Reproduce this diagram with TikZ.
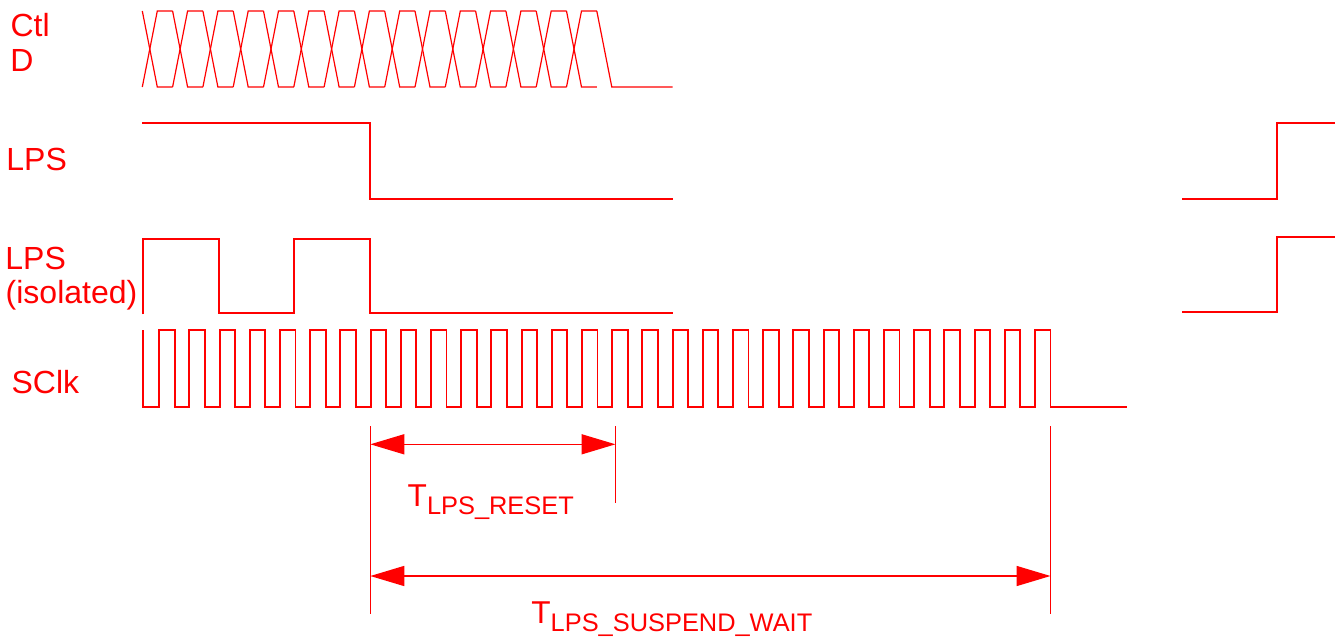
\documentclass[tikz,border=0pt]{standalone}
\usepackage{fontspec}
\setmainfont{Liberation Sans}
\usetikzlibrary{arrows.meta}
\definecolor{sigred}{RGB}{255,0,0}
\begin{document}
\begin{tikzpicture}[x=0.5pt,y=-0.5pt,
  wave/.style={draw=sigred,line width=0.95pt,line join=miter},
  bus/.style={draw=sigred,line width=0.6pt},
  dimline/.style={draw=sigred,line width=0.75pt},
  dimarrow/.style={dimline,{Triangle[length=17pt,width=10pt]}-{Triangle[length=17pt,width=10pt]}},
  siglabel/.style={text=sigred,inner sep=0pt,anchor=base west,font=\fontsize{16}{18}\selectfont},
  timelabel/.style={text=sigred,inner sep=0pt,anchor=base west}]
\useasboundingbox (0,0) rectangle (1339,637);

% labels
\node[siglabel] (ctl) at (10.2,36) {Ctl};
\node[siglabel] (dlab) at (9.9,71.7) {D};
\node[siglabel] (lps) at (6,170) {LPS};
\node[siglabel] (lpsiso) at (5,269.3) {LPS};
\node[siglabel] (isol) at (5.3,303.3) {(isolated)};
\node[siglabel] (sclk) at (11.2,393.3) {SClk};

% Ctl / D bus
\foreach \k in {0,...,14}{
  \pgfmathsetmacro{\xa}{142.3+\k*30.3}
  \pgfmathsetmacro{\xb}{\xa+15}
  \pgfmathsetmacro{\xc}{\xa+30.3}
  \draw[bus] (\xa,11) -- (\xb,87) -- (\xc,87);
  \draw[bus] (\xa,87) -- (\xb,11) -- (\xc,11);
}
\draw[bus] (596.8,11) -- (611.8,87) -- (672.7,87);

% LPS
\draw[wave] (142.3,122.7) -- (370.3,122.7) -- (370.3,198.7) -- (672.7,198.7);
\draw[wave] (1182.3,198.7) -- (1277,198.7) -- (1277,122.7) -- (1335,122.7);

% LPS (isolated)
\draw[wave] (142.7,314.3) -- (142.7,238.7) -- (218.7,238.7) -- (218.7,313.3)
  -- (293.7,313.3) -- (293.7,238.7) -- (370.3,238.7) -- (370.3,313.3) -- (672.7,313.3);
\draw[wave] (1182.3,311.7) -- (1277,311.7) -- (1277,236.7) -- (1335,236.7);

% SClk
\draw[wave] (142.7,330) -- (142.7,406.7)
  \foreach \k in {0,...,29}{
    -- ({159.2+\k*30.2},406.7) -- ({159.2+\k*30.2},330)
    -- ({174.7+\k*30.2},330) -- ({174.7+\k*30.2},406.7)
  } -- (1126.7,406.7);

% dimension lines
\coordinate (ra) at (370.3,426);
\coordinate (rab) at (370.3,614);
\coordinate (rb) at (615.5,426);
\coordinate (rbb) at (615.5,503);
\coordinate (sb) at (1050.5,426);
\coordinate (sbb) at (1050.5,614.3);
\coordinate (r1) at (370.3,444.3);
\coordinate (r2) at (615.5,444.3);
\coordinate (s1) at (370.3,576);
\coordinate (s2) at (1050.5,576);
\draw[dimline] (ra) -- (rab);
\draw[dimline] (rb) -- (rbb);
\draw[dimline] (sb) -- (sbb);
\draw[dimarrow] (r1) -- (r2);
\draw[dimarrow] (s1) -- (s2);

\node[timelabel] (treset) at (407.3,506.7)
  {\fontsize{15.8}{18}\selectfont T\raisebox{-3.8pt}{\fontsize{12.7}{15}\selectfont LPS\_RESET}};
\node[timelabel] (tsusp) at (531,623.3)
  {\fontsize{15.8}{18}\selectfont T\raisebox{-4.2pt}{\fontsize{12.7}{15}\selectfont LPS\_SUSPEND\_WAIT}};
\end{tikzpicture}
\end{document}
